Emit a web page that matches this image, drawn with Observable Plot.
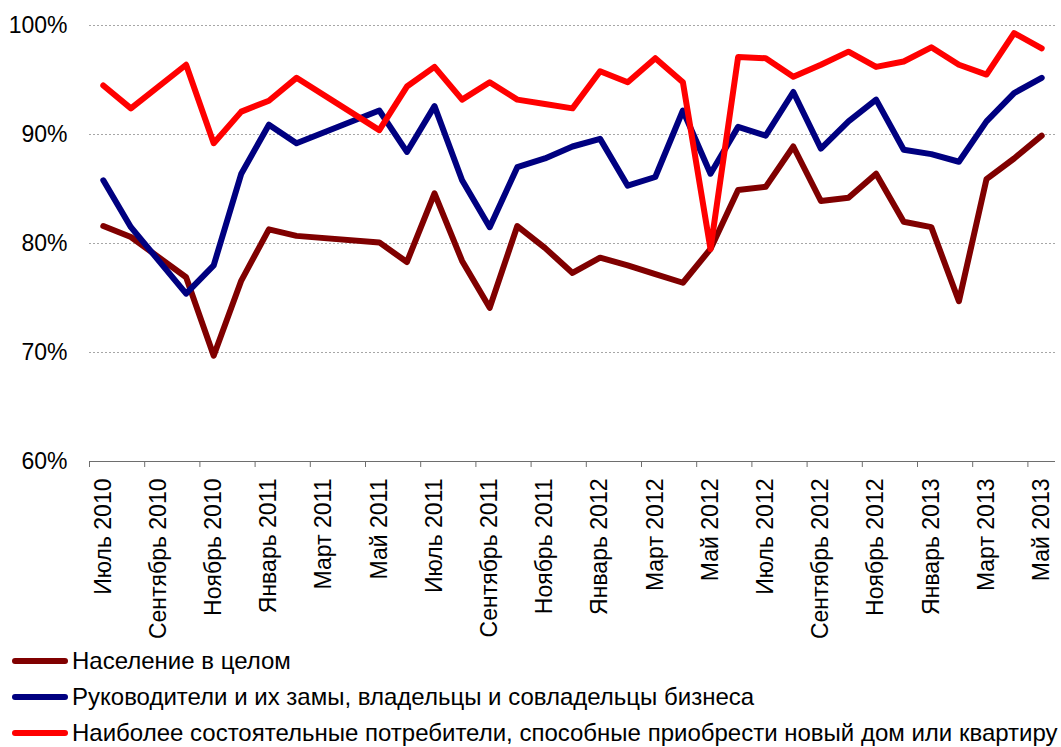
<!DOCTYPE html>
<html>
<head>
<meta charset="utf-8">
<script src="https://cdn.jsdelivr.net/npm/d3@7"></script>
<script src="https://cdn.jsdelivr.net/npm/@observablehq/plot@0.6"></script>
<style>
  html, body { margin: 0; padding: 0; background: #fff; }
  body { width: 1061px; height: 747px; overflow: hidden; font-family: "Liberation Sans", Arial, sans-serif; }
  #legend { padding-top: 3px; }
  .row { display: flex; align-items: center; height: 36px; font-size: 24px; color: #000; white-space: nowrap; }
  .sw { width: 56px; height: 6px; border-radius: 3px; margin-left: 12px; margin-right: 4px; flex: none; }
</style>
</head>
<body>
<div id="chart"></div>
<div id="legend"></div>
<script>
const months = ["Июль 2010","Август 2010","Сентябрь 2010","Октябрь 2010","Ноябрь 2010","Декабрь 2010",
  "Январь 2011","Февраль 2011","Март 2011","Апрель 2011","Май 2011","Июнь 2011",
  "Июль 2011","Август 2011","Сентябрь 2011","Октябрь 2011","Ноябрь 2011","Декабрь 2011",
  "Январь 2012","Февраль 2012","Март 2012","Апрель 2012","Май 2012","Июнь 2012",
  "Июль 2012","Август 2012","Сентябрь 2012","Октябрь 2012","Ноябрь 2012","Декабрь 2012",
  "Январь 2013","Февраль 2013","Март 2013","Апрель 2013","Май 2013"];

const population = [81.6, 80.6, null, 76.9, 69.7, 76.6, 81.3, 80.7, null, null, 80.1, 78.3,
  84.6, 78.4, 74.1, 81.6, 79.6, 77.3, 78.7, 78.0, 77.2, 76.4, 79.5, 84.9,
  85.2, 88.9, 83.9, 84.2, 86.4, 82.0, 81.5, 74.7, 85.9, 87.8, 89.9];
const managers = [85.8, 81.5, null, 75.4, 78.0, 86.4, 90.9, 89.2, null, null, 92.2, 88.4,
  92.6, 85.8, 81.5, 87.0, 87.8, 88.9, 89.6, 85.3, 86.1, 92.2, 86.4, 90.7,
  89.9, 93.9, 88.7, 91.2, 93.2, 88.6, 88.2, 87.5, 91.2, 93.8, 95.2];
const wealthy = [94.5, 92.4, null, 96.4, 89.2, 92.1, 93.1, 95.2, null, null, 90.4, 94.4,
  96.2, 93.2, 94.8, 93.2, 92.8, 92.4, 95.8, 94.8, 97.0, 94.8, 79.5, 97.1,
  97.0, 95.3, 96.4, 97.6, 96.2, 96.7, 98.0, 96.4, 95.5, 99.3, 97.9];

const seriesNames = ["Население в целом",
  "Руководители и их замы, владельцы и совладельцы бизнеса",
  "Наиболее состоятельные потребители, способные приобрести новый дом или квартиру"];
const seriesColors = ["#800000", "#000080", "#ff0000"];
const yTicks = [60, 70, 80, 90, 100];

const seriesValues = [population, managers, wealthy];
const rows = seriesValues.flatMap((vals, s) =>
  vals.map((v, i) => ({i, v, name: seriesNames[s]})).filter(d => d.v != null));

const labelIdx = months.map((_, i) => i).filter(i => i % 2 === 0);
const boundaries = labelIdx.map(i => i - 0.5);

const chart = Plot.plot({
  width: 1061,
  height: 640,
  marginLeft: 89,
  marginRight: 6,
  marginTop: 25,
  marginBottom: 179,
  x: {type: "linear", domain: [-0.5, months.length - 0.5]},
  y: {domain: [60, 100]},
  color: {domain: seriesNames, range: seriesColors},
  style: {fontFamily: "'Liberation Sans', Arial, sans-serif", fontSize: "23px", color: "#000", background: "#fff"},
  marks: [
    Plot.ruleY(yTicks.slice(1), {stroke: "#a6a6a6", strokeDasharray: "2,2", strokeWidth: 1}),
    Plot.axisY({ticks: yTicks, tickFormat: d => d + "%", tickSize: 0, tickPadding: 22, label: null, fontSize: 23}),
    Plot.ruleY([60], {stroke: "#6e6e6e", strokeWidth: 1}),
    Plot.axisX({ticks: boundaries, tickFormat: () => "", tickSize: 6, stroke: "#6e6e6e", strokeOpacity: 1, label: null}),
    Plot.axisX({ticks: labelIdx, tickFormat: i => months[i], tickSize: 0, tickPadding: 17, tickRotate: -90, label: null, fontSize: 23}),
    Plot.line(rows, {x: "i", y: "v", z: "name", stroke: "name", strokeWidth: 6, strokeLinejoin: "round", strokeLinecap: "round"})
  ]
});
document.getElementById("chart").appendChild(chart);

const legend = document.getElementById("legend");
seriesNames.forEach((n, k) => {
  const row = document.createElement("div");
  row.className = "row";
  const sw = document.createElement("span");
  sw.className = "sw";
  sw.style.background = seriesColors[k];
  const t = document.createElement("span");
  t.textContent = n;
  row.appendChild(sw);
  row.appendChild(t);
  legend.appendChild(row);
});
</script>
</body>
</html>
